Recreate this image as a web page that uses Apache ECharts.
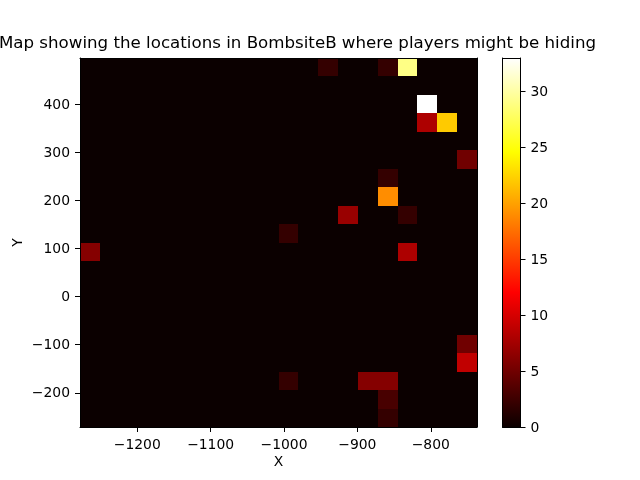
<!DOCTYPE html>
<html>
<head>
<meta charset="utf-8">
<style>html,body{margin:0;padding:0;background:#fff}#c{width:640px;height:480px}</style>
<script src="https://cdn.jsdelivr.net/npm/echarts@6/dist/echarts.min.js"></script>
</head>
<body>
<div id="c"></div>
<script>
const titleText = 'Map showing the locations in BombsiteB where players might be hiding';
const xRange = [-1278, -737];
const yRange = [-271, 496];
const xTicks = [-1200, -1100, -1000, -900, -800];
const yTicks = [-200, -100, 0, 100, 200, 300, 400];
const cbarMax = 33;
const cbarTicks = [0, 5, 10, 15, 20, 25, 30];
// counts per bin; first row is the top of the map
const counts = [
  [0,0,0,0,0,0,0,0,0,0,0,0,2,0,0,2,29,0,0,0],
  [0,0,0,0,0,0,0,0,0,0,0,0,0,0,0,0,0,0,0,0],
  [0,0,0,0,0,0,0,0,0,0,0,0,0,0,0,0,0,33,0,0],
  [0,0,0,0,0,0,0,0,0,0,0,0,0,0,0,0,0,8,22,0],
  [0,0,0,0,0,0,0,0,0,0,0,0,0,0,0,0,0,0,0,0],
  [0,0,0,0,0,0,0,0,0,0,0,0,0,0,0,0,0,0,0,5],
  [0,0,0,0,0,0,0,0,0,0,0,0,0,0,0,2,0,0,0,0],
  [0,0,0,0,0,0,0,0,0,0,0,0,0,0,0,19,0,0,0,0],
  [0,0,0,0,0,0,0,0,0,0,0,0,0,7,0,0,2,0,0,0],
  [0,0,0,0,0,0,0,0,0,0,2,0,0,0,0,0,0,0,0,0],
  [6,0,0,0,0,0,0,0,0,0,0,0,0,0,0,0,8,0,0,0],
  [0,0,0,0,0,0,0,0,0,0,0,0,0,0,0,0,0,0,0,0],
  [0,0,0,0,0,0,0,0,0,0,0,0,0,0,0,0,0,0,0,0],
  [0,0,0,0,0,0,0,0,0,0,0,0,0,0,0,0,0,0,0,0],
  [0,0,0,0,0,0,0,0,0,0,0,0,0,0,0,0,0,0,0,0],
  [0,0,0,0,0,0,0,0,0,0,0,0,0,0,0,0,0,0,0,5],
  [0,0,0,0,0,0,0,0,0,0,0,0,0,0,0,0,0,0,0,9],
  [0,0,0,0,0,0,0,0,0,0,2,0,0,0,6,6,0,0,0,0],
  [0,0,0,0,0,0,0,0,0,0,0,0,0,0,0,3,0,0,0,0],
  [0,0,0,0,0,0,0,0,0,0,0,0,0,0,0,2,0,0,0,0]
];

const hotStops = [[0, [11,0,0]], [0.365, [255,0,0]], [0.746, [255,255,0]], [1, [255,255,255]]];
function hot(t) {
  for (let i = 1; i < hotStops.length; i++) {
    const a = hotStops[i-1], b = hotStops[i];
    if (t <= b[0]) {
      const f = (t - a[0]) / (b[0] - a[0]);
      const c = a[1].map((v, k) => Math.round(v + (b[1][k] - v) * f));
      return 'rgb(' + c.join(',') + ')';
    }
  }
  return '#fff';
}
const nRows = counts.length, nCols = counts[0].length;
const xStep = (xRange[1] - xRange[0]) / nCols, yStep = (yRange[1] - yRange[0]) / nRows;
const cells = [];
counts.forEach((row, r) => row.forEach((v, c) => {
  cells.push([xRange[0] + c * xStep, xRange[0] + (c + 1) * xStep,
              yRange[1] - (r + 1) * yStep, yRange[1] - r * yStep, v]);
}));

const font = 'DejaVu Sans';
const minus = v => String(v).replace('-', '\u2212');
function ticked(customValues, position, extra, labelExtra) {
  return Object.assign({
    type: 'value', position, z: 5, splitLine: {show: false},
    axisLine: {show: true, onZero: false, lineStyle: {color: '#000', width: 1}},
    axisTick: {show: true, length: 5, customValues, lineStyle: {color: '#000', width: 1}},
    axisLabel: Object.assign({show: true, customValues, margin: 9, color: '#000', fontFamily: font, fontSize: 13.9, formatter: minus,
                showMinLabel: true, showMaxLabel: true, hideOverlap: false}, labelExtra)
  }, extra);
}
function frame(position, extra) {
  return Object.assign({
    type: 'value', position, z: 5, splitLine: {show: false},
    axisLine: {show: true, onZero: false, lineStyle: {color: '#000', width: 1}},
    axisTick: {show: false}, axisLabel: {show: false}
  }, extra);
}
const axisName = {color: '#000', fontFamily: font, fontSize: 13.9};

const option = {
  animation: false,
  backgroundColor: '#fff',
  title: {
    text: titleText, left: 292.5, top: 39, textAlign: 'center', textVerticalAlign: 'middle',
    textStyle: {color: '#000', fontFamily: font, fontSize: 16.67, fontWeight: 'normal', verticalAlign: 'middle'}
  },
  grid: [
    {left: 80, top: 58, width: 397, height: 369, outerBoundsMode: 'none'},
    {left: 502.5, top: 58, width: 18, height: 369, outerBoundsMode: 'none'}
  ],
  xAxis: [
    ticked(xTicks, 'bottom', {gridIndex: 0, min: xRange[0], max: xRange[1], name: 'X', nameLocation: 'middle', nameMoveOverlap: false, nameGap: 35, nameTextStyle: Object.assign({verticalAlign: 'middle'}, axisName)}, {margin: 11}),
    frame('top', {gridIndex: 0, min: xRange[0], max: xRange[1]}),
    frame('bottom', {gridIndex: 1, min: 0, max: 1}),
    frame('top', {gridIndex: 1, min: 0, max: 1})
  ],
  yAxis: [
    ticked(yTicks, 'left', {gridIndex: 0, min: yRange[0], max: yRange[1], name: 'Y', nameLocation: 'middle', nameMoveOverlap: false, nameGap: 62, nameTextStyle: Object.assign({verticalAlign: 'middle'}, axisName)}, {verticalAlign: 'top', lineHeight: 2, margin: 10}),
    frame('right', {gridIndex: 0, min: yRange[0], max: yRange[1]}),
    ticked(cbarTicks, 'right', {gridIndex: 1, min: 0, max: cbarMax}, {verticalAlign: 'top', lineHeight: 2, margin: 10}),
    frame('left', {gridIndex: 1, min: 0, max: cbarMax})
  ],
  series: [
    {
      type: 'custom', xAxisIndex: 0, yAxisIndex: 0, z: 1, silent: true,
      encode: {x: [0, 1], y: [2, 3]},
      data: cells,
      renderItem(params, api) {
        const p0 = api.coord([api.value(0), api.value(3)]);
        const p1 = api.coord([api.value(1), api.value(2)]);
        const x = Math.round(p0[0]), y = Math.round(p0[1]);
        return {
          type: 'rect',
          shape: {x, y, width: Math.round(p1[0]) - x, height: Math.round(p1[1]) - y},
          style: {fill: hot(api.value(4) / cbarMax)}
        };
      }
    },
    {
      type: 'custom', xAxisIndex: 2, yAxisIndex: 2, z: 1, silent: true,
      encode: {x: [0, 1], y: [2, 3]},
      data: [[0, 1, 0, cbarMax]],
      renderItem(params, api) {
        const p0 = api.coord([api.value(0), api.value(3)]);
        const p1 = api.coord([api.value(1), api.value(2)]);
        return {
          type: 'rect',
          shape: {x: p0[0], y: p0[1], width: p1[0] - p0[0], height: p1[1] - p0[1]},
          style: {fill: new echarts.graphic.LinearGradient(0, 1, 0, 0,
            hotStops.map(s => ({offset: s[0], color: 'rgb(' + s[1].join(',') + ')'})))}
        };
      }
    }
  ]
};
echarts.init(document.getElementById('c'), null, {renderer: 'canvas'}).setOption(option);
</script>
</body>
</html>
